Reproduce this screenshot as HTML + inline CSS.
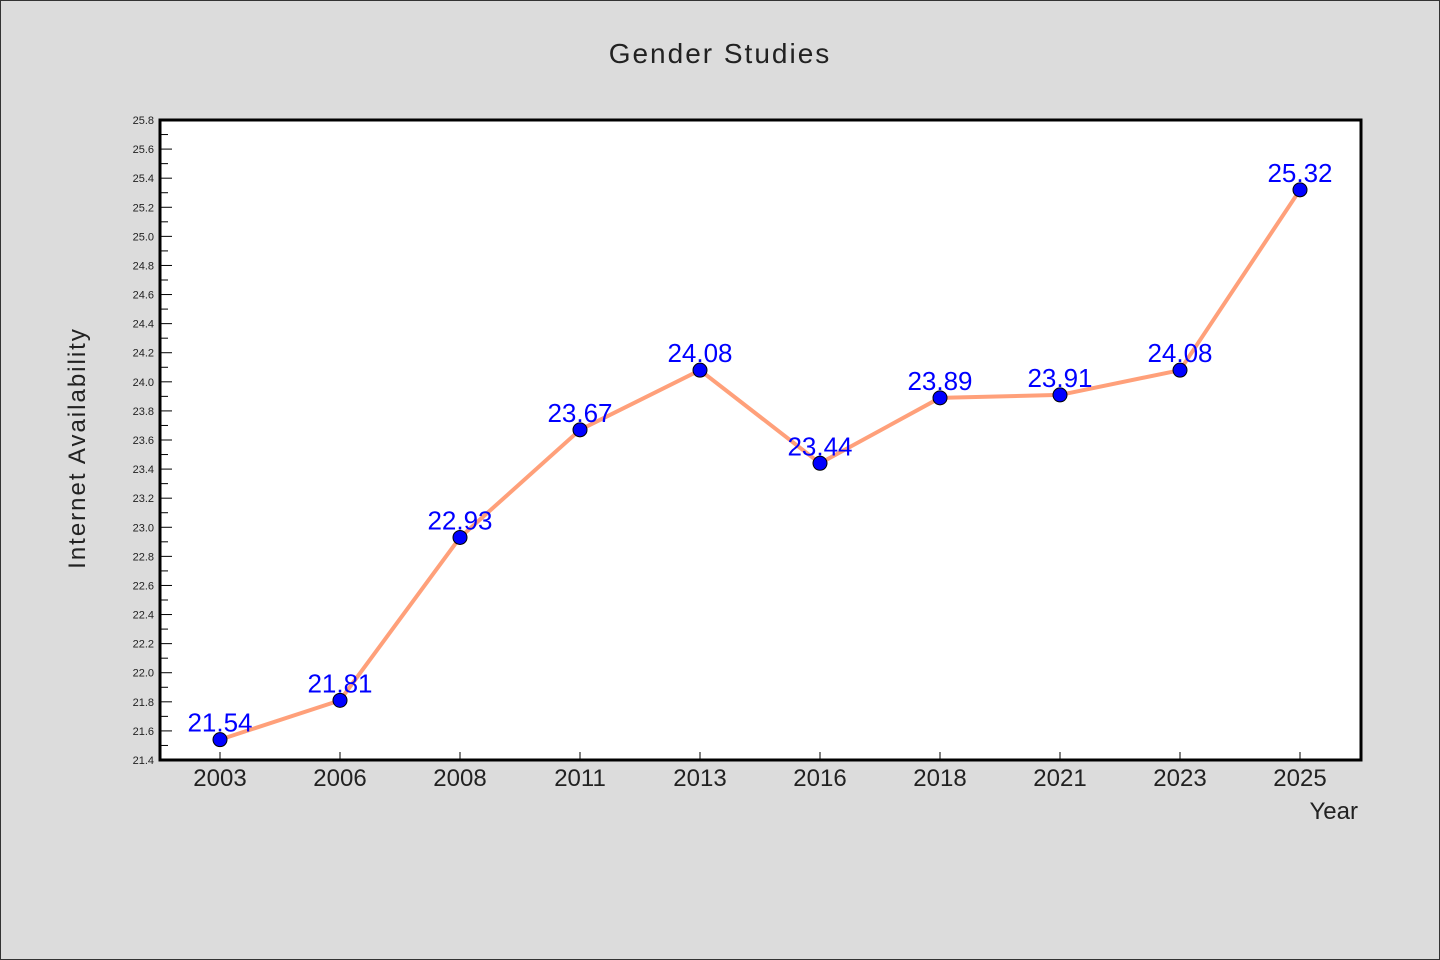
<!DOCTYPE html>
<html><head><meta charset="utf-8"><style>
html,body{margin:0;padding:0;background:#dcdcdc;}
svg{display:block;}
text{font-family:"WenQuanYi Zen Hei","Liberation Sans",sans-serif;}
</style></head><body>
<svg id="chart" width="1440" height="960">
<rect x="0.5" y="0.5" width="1439" height="959" fill="#dcdcdc" stroke="#333"/>
<text x="720" y="63" text-anchor="middle" font-size="28" fill="#222" letter-spacing="2">Gender Studies</text>
<rect x="160" y="120" width="1201" height="640" fill="#fff"/>
<g id="yaxis"></g>
<g id="xaxis"></g>
<g id="series"></g>
<rect x="160" y="120" width="1201" height="640" fill="none" stroke="#000" stroke-width="3"/>
<text x="85" y="448" text-anchor="middle" font-size="24" fill="#222" letter-spacing="2" transform="rotate(-90 85 448)">Internet Availability</text>
<text x="1358" y="819" text-anchor="end" font-size="24" fill="#222">Year</text>
</svg>
<script>
const categories=["2003","2006","2008","2011","2013","2016","2018","2021","2023","2025"];
const values=[21.54,21.81,22.93,23.67,24.08,23.44,23.89,23.91,24.08,25.32];
const valueLabels=["21.54","21.81","22.93","23.67","24.08","23.44","23.89","23.91","24.08","25.32"];
const yMin=21.4, yMax=25.8;
const NS="http://www.w3.org/2000/svg";
const L=160,R=1360,T=120,B=760;
function yS(v){return B-(v-yMin)/(yMax-yMin)*(B-T);}
function xS(i){return L+(i+0.5)*(R-L)/categories.length;}
function mk(tag,attrs,parent){const e=document.createElementNS(NS,tag);for(const k in attrs)e.setAttribute(k,attrs[k]);parent.appendChild(e);return e;}
const ya=document.getElementById('yaxis'),xa=document.getElementById('xaxis'),sg=document.getElementById('series');
for(let k=0;k<=44;k++){
  const v=yMin+k*0.1, y=yS(v), major=k%2===0;
  const t=mk('line',{x1:L,x2:L+(major?12:8),y1:y,y2:y,stroke:'#000','stroke-width':1},ya);
  
  
  if(major){
    const tx=mk('text',{x:L-6,y:y+4,'text-anchor':'end','font-size':11,fill:'#222'},ya);
    tx.textContent=v.toFixed(1);
    
    
  }
}
categories.forEach((c,i)=>{
  const x=xS(i);
  const t=mk('line',{x1:x,x2:x,y1:B,y2:B-8,stroke:'#000','stroke-width':1},xa);
  
  
  const tx=mk('text',{x:x,y:B+26,'text-anchor':'middle','font-size':24,fill:'#222'},xa);
  tx.textContent=c;
  
  
});
const pts=values.map((v,i)=>xS(i)+','+yS(v)).join(' ');
const line=mk('polyline',{points:pts,fill:'none',stroke:'#ffa07a','stroke-width':4,'stroke-linejoin':'round'},sg);


values.forEach((v,i)=>{
  const c=mk('circle',{cx:xS(i),cy:yS(v),r:7,fill:'#0000ff',stroke:'#000','stroke-width':1},sg);
  
  
});
values.forEach((v,i)=>{
  const tx=mk('text',{x:xS(i),y:yS(v)-8,'text-anchor':'middle','font-size':26,fill:'#0000ff'},sg);
  tx.textContent=valueLabels[i];
  
  
});
</script>
</body></html>
